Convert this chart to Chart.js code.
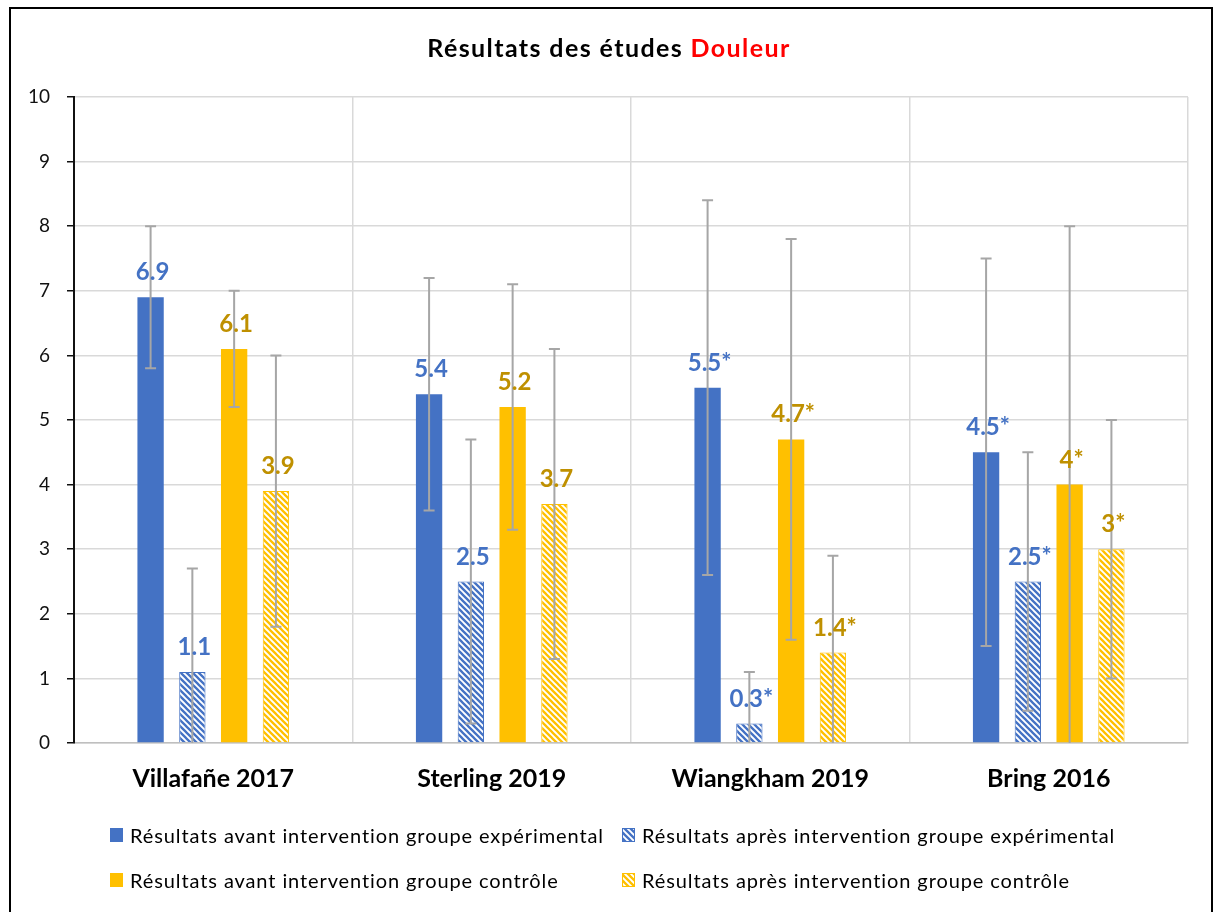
<!DOCTYPE html>
<html lang="fr">
<head>
<meta charset="utf-8">
<title>Résultats des études Douleur</title>
<script src="https://cdn.jsdelivr.net/npm/chart.js@4/dist/chart.umd.min.js"></script>
<style>
    html, body { margin: 0; padding: 0; background: #fff; }
    canvas { display: block; }
</style>
</head>
<body>
<canvas id="douleur-chart" width="1214" height="912"></canvas>
<script>
// Données
const studies = ['Villafañe 2017', 'Sterling 2019', 'Wiangkham 2019', 'Bring 2016'];
const significant = [false, false, true, true];   // astérisque sur les étiquettes

const expAvant = [6.9, 5.4, 5.5, 4.5];
const expAvantLow = [5.8, 3.6, 2.6, 1.5];
const expAvantHigh = [8.0, 7.2, 8.4, 7.5];

const expApres = [1.1, 2.5, 0.3, 2.5];
const expApresLow = [0, 0.3, 0, 0.5];
const expApresHigh = [2.7, 4.7, 1.1, 4.5];

const ctrlAvant = [6.1, 5.2, 4.7, 4];
const ctrlAvantLow = [5.2, 3.3, 1.6, 0];
const ctrlAvantHigh = [7.0, 7.1, 7.8, 8.0];

const ctrlApres = [3.9, 3.7, 1.4, 3];
const ctrlApresLow = [1.8, 1.3, 0, 1.0];
const ctrlApresHigh = [6.0, 6.1, 2.9, 5.0];

const yTicks = [0, 1, 2, 3, 4, 5, 6, 7, 8, 9, 10];

const BLUE = '#4472c4';
const GOLD = '#ffc000';
const BLUE_TXT = '#4472c4';
const GOLD_TXT = '#bf9000';
const FONT = 'Lato, "Open Sans", sans-serif';

// motif hachuré (diagonale descendante large)
function hatch(color) {
    const c = document.createElement('canvas');
    c.width = c.height = 6;
    const x = c.getContext('2d');
    x.fillStyle = '#fff';
    x.fillRect(0, 0, 6, 6);
    x.strokeStyle = color;
    x.lineWidth = 2.3;
    x.beginPath();
    x.moveTo(-1, -1); x.lineTo(7, 7);
    x.moveTo(-1, 5); x.lineTo(1, 7);
    x.moveTo(5, -1); x.lineTo(7, 1);
    x.stroke();
    return x.createPattern(c, 'repeat');
}

const datasets = [
    { label: 'Résultats avant intervention groupe expérimental', data: expAvant, low: expAvantLow, high: expAvantHigh,
      backgroundColor: BLUE, borderWidth: 0, txt: BLUE_TXT },
    { label: 'Résultats après intervention groupe expérimental', data: expApres, low: expApresLow, high: expApresHigh,
      backgroundColor: hatch(BLUE), borderColor: BLUE, borderWidth: 1, txt: BLUE_TXT },
    { label: 'Résultats avant intervention groupe contrôle', data: ctrlAvant, low: ctrlAvantLow, high: ctrlAvantHigh,
      backgroundColor: GOLD, borderWidth: 0, txt: GOLD_TXT },
    { label: 'Résultats après intervention groupe contrôle', data: ctrlApres, low: ctrlApresLow, high: ctrlApresHigh,
      backgroundColor: hatch(GOLD), borderColor: GOLD, borderWidth: 1, txt: GOLD_TXT }
];

// fond, cadre, titre et légende
const framePlugin = {
    id: 'frame',
    beforeDraw(chart) {
        const { ctx } = chart;
        ctx.save();
        ctx.fillStyle = '#fff';
        ctx.fillRect(0, 0, chart.width, chart.height);
        ctx.restore();
    },
    afterDraw(chart) {
        const { ctx } = chart;
        ctx.save();
        ctx.strokeStyle = '#000';
        ctx.lineWidth = 2;
        ctx.strokeRect(10, 8, 1202, 920);

        // titre en deux couleurs
        ctx.font = 'bold 25px ' + FONT;
        ctx.letterSpacing = '1.4px';
        ctx.textBaseline = 'alphabetic';
        const a = 'Résultats des études ', b = 'Douleur';
        const wa = ctx.measureText(a).width, wb = ctx.measureText(b).width;
        const tx = 609 - (wa + wb) / 2;
        ctx.fillStyle = '#000';
        ctx.fillText(a, tx, 57);
        ctx.fillStyle = '#ff0000';
        ctx.fillText(b, tx + wa, 57);

        // légende sur deux colonnes
        const cols = [110, 622];
        const rows = [843, 888];
        ctx.font = '20px ' + FONT;
        ctx.letterSpacing = '0.9px';
        chart.data.datasets.forEach((ds, i) => {
            const x = cols[i % 2], y = rows[Math.floor(i / 2)];
            ctx.fillStyle = ds.backgroundColor;
            ctx.fillRect(x, y - 15, 13, 14);
            if (ds.borderWidth) {
                ctx.strokeStyle = ds.borderColor;
                ctx.lineWidth = 1;
                ctx.strokeRect(x + 0.5, y - 14.5, 12, 13);
            }
            ctx.fillStyle = '#000';
            ctx.textAlign = 'left';
            ctx.fillText(ds.label, x + 20, y);
        });
        ctx.restore();
    }
};

// barres d'erreur et étiquettes de valeurs
const errorLabelPlugin = {
    id: 'errorLabels',
    afterDatasetsDraw(chart) {
        const { ctx, chartArea } = chart;
        const yScale = chart.scales.y;
        ctx.save();
        ctx.beginPath();
        ctx.rect(chartArea.left, chartArea.top - 20, chartArea.right - chartArea.left, chartArea.bottom - chartArea.top + 20);
        ctx.clip();
        ctx.strokeStyle = '#a6a6a6';
        ctx.lineWidth = 2;
        chart.data.datasets.forEach((ds, i) => {
            chart.getDatasetMeta(i).data.forEach((bar, j) => {
                const yHi = yScale.getPixelForValue(ds.high[j]);
                const yLo = yScale.getPixelForValue(ds.low[j]);
                ctx.beginPath();
                ctx.moveTo(bar.x, yHi);
                ctx.lineTo(bar.x, yLo);
                ctx.moveTo(bar.x - 5.5, yHi);
                ctx.lineTo(bar.x + 5.5, yHi);
                if (ds.low[j] > 0) {
                    ctx.moveTo(bar.x - 5.5, yLo);
                    ctx.lineTo(bar.x + 5.5, yLo);
                }
                ctx.stroke();
            });
        });
        ctx.restore();

        ctx.save();
        ctx.font = 'bold 24px ' + FONT;
        ctx.textAlign = 'center';
        ctx.textBaseline = 'alphabetic';
        chart.data.datasets.forEach((ds, i) => {
            ctx.fillStyle = ds.txt;
            chart.getDatasetMeta(i).data.forEach((bar, j) => {
                const txt = String(ds.data[j]) + (significant[j] ? '*' : '');
                ctx.fillText(txt, bar.x + 2, bar.y - 17);
            });
        });
        ctx.restore();
    }
};

new Chart(document.getElementById('douleur-chart'), {
    type: 'bar',
    data: { labels: studies, datasets },
    options: {
        responsive: false,
        animation: false,
        devicePixelRatio: 1,
        layout: { padding: { left: 10, right: 26, top: 97, bottom: 114 } },
        datasets: { bar: { categoryPercentage: 0.6, barPercentage: 0.63 } },
        plugins: {
            legend: { display: false },
            title: { display: false },
            tooltip: { enabled: false }
        },
        scales: {
            x: {
                afterFit: s => { s.height = 55; },
                grid: { color: '#d9d9d9', lineWidth: 1.5, drawTicks: false, offset: true },
                border: { color: '#bfbfbf', width: 1.5 },
                ticks: { color: '#000', padding: 21, font: { family: FONT, size: 25, weight: 'bold' } }
            },
            y: {
                min: 0,
                max: 10,
                afterFit: s => { s.width = 64; },
                afterBuildTicks: s => { s.ticks = yTicks.map(v => ({ value: v })); },
                grid: { color: '#d9d9d9', lineWidth: 1.5, tickColor: '#111', tickLength: 7 },
                border: { color: '#111', width: 2 },
                ticks: { color: '#111', padding: 17, font: { family: FONT, size: 19 } }
            }
        }
    },
    plugins: [framePlugin, errorLabelPlugin]
});
</script>
</body>
</html>
